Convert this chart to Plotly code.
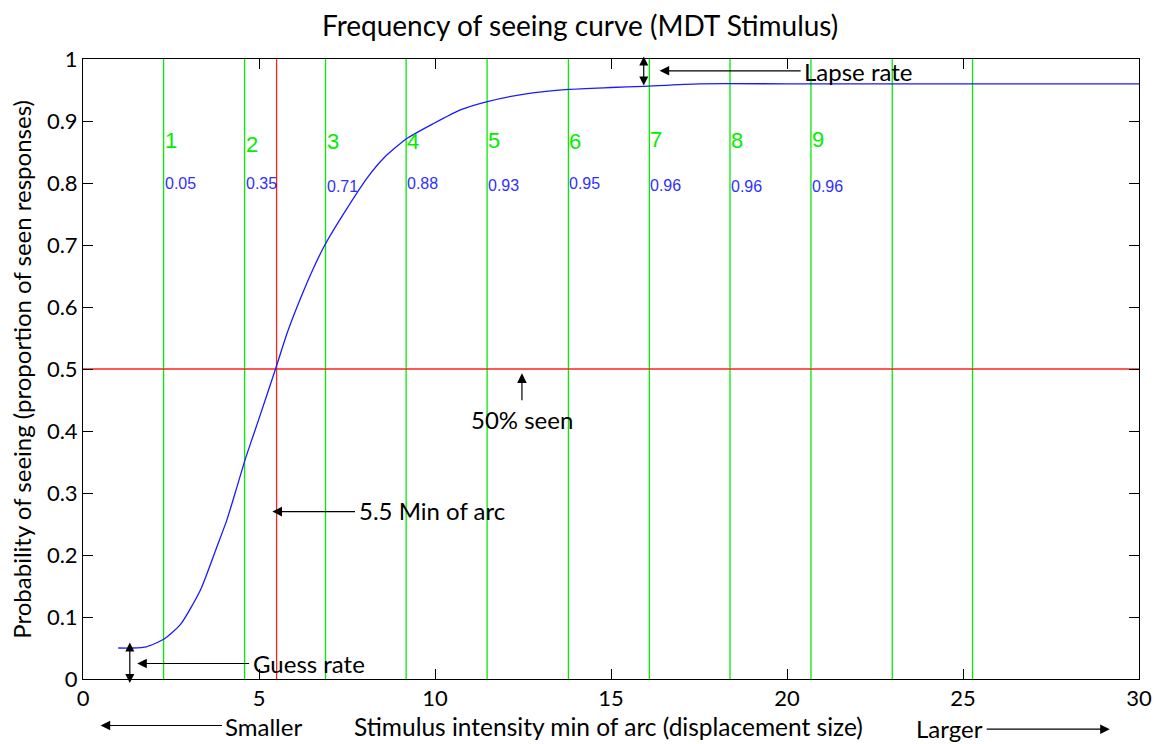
import plotly.graph_objects as go

# ---------------- data ----------------
curve_x = [1.0, 1.4, 1.8, 2.29, 2.77, 3.34, 3.81, 4.09, 4.38, 4.59, 4.76, 5.0, 5.47,
           5.80, 6.18, 6.55, 6.89, 7.41, 8.07, 8.54, 9.18, 9.96, 10.72, 11.46, 12.5,
           13.8, 15.0, 15.92, 17.5, 20.0, 25.0, 30.0]
curve_y = [0.05, 0.05, 0.052, 0.064, 0.088, 0.144, 0.214, 0.257, 0.311, 0.351, 0.38,
           0.42, 0.50, 0.558, 0.614, 0.663, 0.702, 0.751, 0.808, 0.840, 0.871, 0.896,
           0.918, 0.931, 0.943, 0.951, 0.954, 0.956, 0.96, 0.96, 0.96, 0.96]

green_lines_x = [2.29, 4.59, 6.89, 9.18, 11.48, 13.79, 16.09, 18.38, 20.68, 22.99, 25.27]
threshold_x = 5.5
threshold_y = 0.5

level_numbers = ["1", "2", "3", "4", "5", "6", "7", "8", "9"]
level_number_y = [0.869, 0.862, 0.867, 0.867, 0.869, 0.867, 0.870, 0.869, 0.870]
level_values = ["0.05", "0.35", "0.71", "0.88", "0.93", "0.95", "0.96", "0.96", "0.96"]
level_value_y = [0.800, 0.799, 0.794, 0.800, 0.796, 0.799, 0.796, 0.794, 0.794]

x_ticks = [0, 5, 10, 15, 20, 25, 30]
y_ticks = [0, 0.1, 0.2, 0.3, 0.4, 0.5, 0.6, 0.7, 0.8, 0.9, 1]
y_tick_labels = ["0", "0.1", "0.2", "0.3", "0.4", "0.5", "0.6", "0.7", "0.8", "0.9", "1"]

title_text = "Frequency of seeing curve (MDT Stimulus)"
x_title = "Stimulus intensity min of arc (displacement size)"
y_title = "Probability of seeing (proportion of seen responses)"

X_MAX = 30.0

# ---------------- figure ----------------
TXT = "Lato"
GREEN = "#00ee00"
ASZ = 24

fig = go.Figure()

gx, gy = [], []
for v in green_lines_x:
    gx += [v, v, None]
    gy += [0, 1, None]
fig.add_trace(go.Scatter(x=gx, y=gy, mode="lines",
                         line=dict(color=GREEN, width=1.3), hoverinfo="skip"))

fig.add_trace(go.Scatter(x=[threshold_x, threshold_x, None, 0, X_MAX],
                         y=[0, 1, None, threshold_y, threshold_y], mode="lines",
                         line=dict(color="#ff2020", width=1.3), hoverinfo="skip"))

fig.add_trace(go.Scatter(x=curve_x, y=curve_y, mode="lines",
                         line=dict(color="#1a1aff", width=1.3, shape="spline", smoothing=0.6)))

ann = []
for i, t in enumerate(level_numbers):
    ann.append(dict(x=green_lines_x[i], y=level_number_y[i], text=t, showarrow=False,
                    xanchor="left", yanchor="middle", xshift=-1,
                    font=dict(family="Liberation Sans", size=22, color=GREEN)))
    ann.append(dict(x=green_lines_x[i], y=level_value_y[i], text=level_values[i],
                    showarrow=False, xanchor="left", yanchor="middle", xshift=-1,
                    font=dict(family="Liberation Sans", size=16, color="#3030ff")))

black = "#000000"

def arrow(x, y, ax, ay, side="end", hs=1.6, dom=False):
    if dom:
        return dict(x=x / X_MAX, y=y, ax=ax / X_MAX, ay=ay, xref="x domain",
                    yref="y domain", axref="x domain", ayref="y domain", text="",
                    showarrow=True, arrowhead=2, arrowside=side, arrowsize=hs,
                    arrowwidth=1.2, arrowcolor=black)
    return dict(x=x, y=y, ax=ax, ay=ay, xref="x", yref="y", axref="x", ayref="y",
                text="", showarrow=True, arrowhead=2, arrowside=side, arrowsize=hs,
                arrowwidth=1.2, arrowcolor=black)

def label(x, y, t, xa="left", size=ASZ, dom=False, angle=0):
    d = dict(x=x, y=y, text=t, showarrow=False, xanchor=xa, yanchor="middle",
             textangle=angle, font=dict(family=TXT, size=size, color=black))
    if dom:
        d.update(x=x / X_MAX, xref="x domain", yref="y domain")
    return d

# lapse rate
ann.append(arrow(15.93, 1.004, 15.93, 0.955, side="end+start", hs=1.5, dom=True))
ann.append(arrow(16.38, 0.981, 20.43, 0.981))
ann.append(label(20.43, 0.980, "Lapse rate"))
# guess rate
ann.append(arrow(1.33, 0.059, 1.33, -0.009, side="end+start", hs=1.5, dom=True))
ann.append(arrow(1.54, 0.025, 4.76, 0.025))
ann.append(label(4.76, 0.025, "Guess rate"))
# threshold
ann.append(arrow(5.38, 0.270, 7.77, 0.270))
ann.append(label(7.77, 0.271, "5.5 Min of arc"))
# 50% seen
ann.append(arrow(12.47, 0.493, 12.47, 0.447))
ann.append(label(12.47, 0.418, "50% seen", xa="center"))
# smaller / larger
ann.append(arrow(0.50, -0.075, 3.99, -0.075, dom=True))
ann.append(label(3.99, -0.076, "Smaller", dom=True))
ann.append(arrow(29.17, -0.081, 25.63, -0.081, dom=True))
ann.append(label(25.63, -0.080, "Larger", xa="right", dom=True))
# axis titles and title
ann.append(label(14.92, -0.077, x_title, xa="center", size=24.5, dom=True))
ann.append(label(-1.77, 0.5, y_title, xa="center", dom=True, angle=-90))
ann.append(label(14.13, 1.055, title_text, xa="center", size=28, dom=True))

fig.update_layout(
    width=1157, height=744,
    margin=dict(l=82.5, r=18, t=59, b=64.5),
    paper_bgcolor="white", plot_bgcolor="white",
    showlegend=False,
    annotations=ann,
    xaxis=dict(range=[0, X_MAX], tickvals=x_ticks, ticks="inside", ticklen=10,
               tickcolor=black, showline=True, linecolor=black, linewidth=1,
               mirror="allticks", showgrid=False, zeroline=False, automargin=False,
               ticklabeloverflow="allow",
               tickfont=dict(family=TXT, size=22, color=black)),
    yaxis=dict(range=[0, 1], tickvals=y_ticks, ticktext=y_tick_labels, ticks="inside",
               ticklen=10, tickcolor=black, showline=True, linecolor=black, linewidth=1,
               mirror="allticks", showgrid=False, zeroline=False, automargin=False,
               ticklabeloverflow="allow",
               tickfont=dict(family=TXT, size=22, color=black)),
)

fig.write_html("out.html")
